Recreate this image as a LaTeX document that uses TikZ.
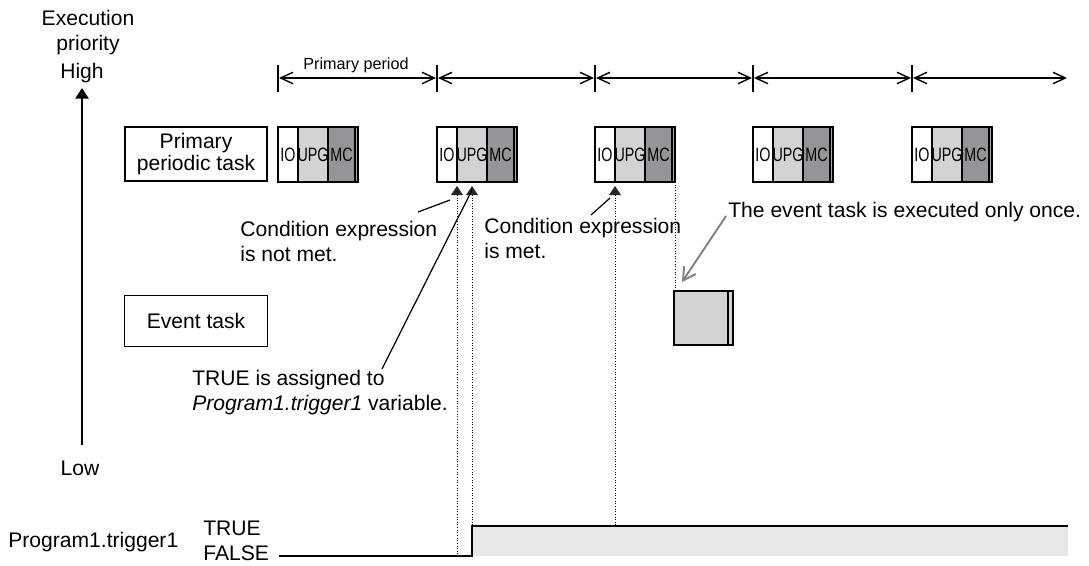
\documentclass[tikz,border=0pt]{standalone}
\usepackage{fontspec}
\setmainfont{Liberation Sans}
\usetikzlibrary{arrows.meta, positioning}
\definecolor{upggray}{HTML}{D1D3D4}
\definecolor{mcgray}{HTML}{939598}
\definecolor{stripgray}{HTML}{A7A9AC}
\definecolor{sigfill}{HTML}{E6E7E8}
\definecolor{notegray}{HTML}{808285}
\tikzset{
  lbl/.style={font=\fontsize{12}{14.2}\selectfont, inner sep=0pt},
  seglbl/.style={font=\fontsize{11}{11}\selectfont, inner sep=0pt, xscale=0.74},
  taskbox/.style={draw, line width=0.8pt, align=center, font=\fontsize{12}{14.2}\selectfont},
  period/.style={{Straight Barb[length=7pt,width=6.5pt]}-{Straight Barb[length=7pt,width=6.5pt]}, line width=0.8pt},
  leader/.style={line width=0.7pt},
  guide/.style={densely dotted, line width=0.5pt},
}
\begin{document}
\begin{tikzpicture}[x=0.02cm, y=-0.02cm]
    \useasboundingbox (0,0) rectangle (1089,565);

    % priority axis
    \node[lbl, align=center] (exec) at (88,33) {Execution\\priority};
    \node[lbl] (high) at (82,73) {High};
    \node[lbl] (low) at (80,468) {Low};
    \coordinate (prioTop) at (82,88);
    \coordinate (prioBot) at (82,445);
    \draw[-{Triangle[length=6pt,width=7.5pt]}, line width=1pt] (prioBot) -- (prioTop);

    % task labels on the left
    \node[taskbox, minimum width=2.84cm, minimum height=1.08cm] (ppt) at (196,154) {Primary\\[-2pt]periodic task};
    \node[taskbox, minimum width=2.86cm, minimum height=1.02cm] (evt) at (196,321) {Event task};

    % primary periods
    \foreach \t in {278,437,595,753,912} {
        \draw[line width=0.8pt] (\t,65) -- (\t,92);
    }
    \foreach \a/\b in {278/437, 437/595, 595/753, 753/912, 912/1068} {
        \draw[period] (\a+1,78) -- (\b-1,78);
    }
    \node[font=\fontsize{9.2}{10}\selectfont, inner sep=0pt] (pp) at (356,65) {Primary period};

    % IO / UPG / MC blocks of each period
    \foreach \i/\xs in {1/278, 2/437, 3/595, 4/753, 5/912} {
        \draw[fill=white, line width=0.7pt] (\xs,127) rectangle (\xs+20,182);
        \draw[fill=upggray, line width=0.7pt] (\xs+20,127) rectangle (\xs+50,182);
        \draw[fill=mcgray, line width=0.7pt] (\xs+50,127) rectangle (\xs+77,182);
        \draw[fill=stripgray, line width=0.7pt] (\xs+77,127) rectangle (\xs+80,182);
        \node[seglbl] (io\i) at (\xs+10,155) {IO};
        \node[seglbl] (upg\i) at (\xs+35,155) {UPG};
        \node[seglbl] (mc\i) at (\xs+63.5,155) {MC};
    }

    % condition checks (triangles) and guide lines
    \coordinate (cond1) at (457,186);
    \coordinate (cond2) at (472,186);
    \coordinate (cond3) at (615,186);
    \foreach \c in {cond1,cond2,cond3} {
        \fill[black!85] (\c) -- ++(-6,9) -- ++(12,0) -- cycle;
    }
    \draw[guide] (457,195) -- (457,556);
    \draw[guide] (472,195) -- (472,526);
    \draw[guide] (615,195) -- (615,526);
    \draw[guide] (675,182) -- (675,291);

    % event task, executed once
    \draw[fill=upggray, line width=0.8pt] (674,291) rectangle (728,345);
    \draw[fill=upggray, line width=0.8pt] (728,291) rectangle (733,345);
    \coordinate (evtop) at (682,282);

    % notes
    \node[lbl, align=left, anchor=north west] (notmet) at (240,221) {Condition expression\\is not met.};
    \node[lbl, align=left, anchor=north west] (met) at (484,218) {Condition expression\\is met.};
    \node[lbl, align=left, anchor=north west] (assign) at (192,370) {TRUE is assigned to\\\textit{Program1.trigger1} variable.};
    \node[lbl, anchor=west] (once) at (728,212) {The event task is executed only once.};

    \coordinate (assignfoot) at (382,369);
    \draw[leader] (418,212) -- ([shift={(-7,14)}]cond1);
    \draw[leader] (assignfoot) -- ([shift={(0,4)}]cond2);
    \draw[leader] (591,215) -- ([shift={(-5,12)}]cond3);
    \draw[notegray, line width=1.1pt, -{Straight Barb[length=7pt,width=8pt]}] ([shift={(-2,4)}]once.west) -- (evtop);

    % Program1.trigger1 signal
    \node[lbl, anchor=west] (prog) at (8,542) {Program1.trigger1};
    \node[lbl, anchor=west] (tru) at (203,528) {TRUE};
    \node[lbl, anchor=west] (fls) at (203,553) {FALSE};
    \fill[sigfill] (472,526) rectangle (1068,556);
    \draw[line width=1.2pt] (279,556) -- (472,556) -- (472,526) -- (1068,526);

\end{tikzpicture}
\end{document}
